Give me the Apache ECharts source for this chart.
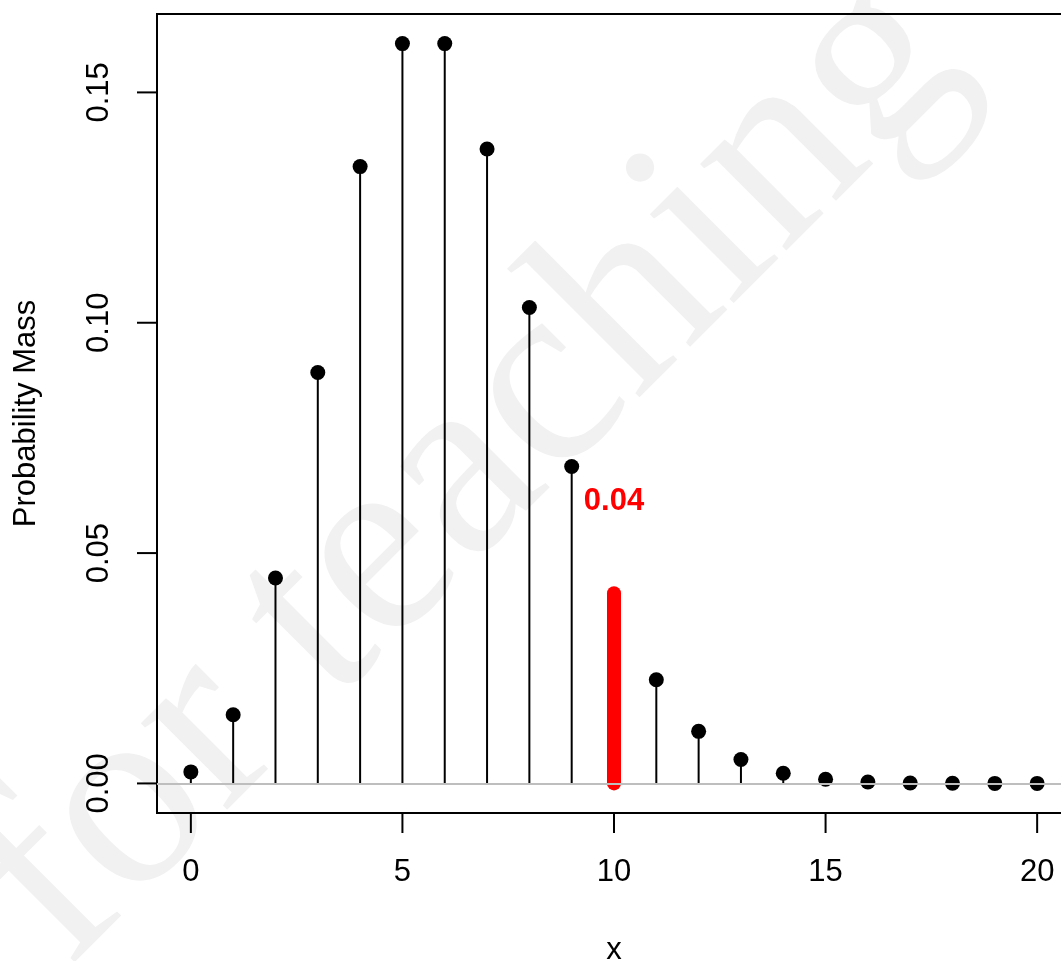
<!DOCTYPE html>
<html>
<head>
<meta charset="utf-8">
<title>Probability Mass</title>
<script src="https://cdn.jsdelivr.net/npm/echarts@6/dist/echarts.min.js"></script>
<style>
  html, body { margin: 0; padding: 0; background: #ffffff; }
  #chart { width: 1061px; height: 961px; }
</style>
</head>
<body>
<div id="chart"></div>
<script>
// Outcomes and their probability masses
const xValues = [0, 1, 2, 3, 4, 5, 6, 7, 8, 9, 10, 11, 12, 13, 14, 15, 16, 17, 18, 19, 20];
const massValues = [0.0025, 0.0149, 0.0446, 0.0892, 0.1339, 0.1606, 0.1606, 0.1377, 0.1033, 0.0688,
                    0.0413, 0.0225, 0.0113, 0.0052, 0.0022, 0.0009, 0.0003, 0.0001, 0.00004, 0.00001, 0.000004];
// Outcome drawn as the highlighted thick red bar
const highlightX = 10;
// Tick positions and their labels
const xTicks = [0, 5, 10, 15, 20];
const xTickLabels = ['0', '5', '10', '15', '20'];
const yTicks = [0, 0.05, 0.10, 0.15];
const yTickLabels = ['0.00', '0.05', '0.10', '0.15'];
const xTitle = 'x';
const yTitle = 'Probability Mass';
const watermarkText = 'for teaching';

// axis ranges (data range padded by 4% on each side)
const X_MIN = -0.8, X_MAX = 20.8;
const Y_MIN = -0.00642, Y_MAX = 0.16702;

const pairs = xValues.map((x, i) => [x, massValues[i]]);
const regular = pairs.filter(p => p[0] !== highlightX);
const highlighted = pairs.filter(p => p[0] === highlightX);

const FONT = '"Liberation Sans", Arial, Helvetica, sans-serif';
const TICK_LEN = 20;

const chart = echarts.init(document.getElementById('chart'), null, { renderer: 'canvas' });

chart.setOption({
  animation: false,
  backgroundColor: '#ffffff',
  graphic: [{
    type: 'text',
    z: -10,
    silent: true,
    x: 469,
    y: 469,
    rotation: Math.PI / 4,
    style: {
      text: watermarkText,
      fontFamily: '"Liberation Serif", "DejaVu Serif", serif',
      fontSize: 266,
      fill: '#f1f1f1',
      align: 'center',
      verticalAlign: 'middle'
    }
  }],
  grid: {
    left: 157,
    top: 14,
    width: 914,
    height: 799,
    outerBoundsMode: 'none',
    show: true,
    borderColor: '#000000',
    borderWidth: 2
  },
  xAxis: {
    type: 'value',
    min: X_MIN,
    max: X_MAX,
    name: xTitle,
    nameLocation: 'middle',
    nameGap: 122,
    nameTextStyle: { fontFamily: FONT, fontSize: 31, color: '#000' },
    axisLine: { show: false, onZero: false },
    splitLine: { show: false },
    axisTick: { show: false },
    axisLabel: { show: false }
  },
  yAxis: {
    type: 'value',
    min: Y_MIN,
    max: Y_MAX,
    name: yTitle,
    nameLocation: 'middle',
    nameGap: 115,
    nameRotate: 90,
    nameTextStyle: { fontFamily: FONT, fontSize: 31, color: '#000' },
    axisLine: { show: false, onZero: false },
    splitLine: { show: false },
    axisTick: { show: false },
    axisLabel: { show: false }
  },
  series: [
    {
      // reference line at zero
      type: 'line',
      data: [],
      z: 1,
      markLine: {
        silent: true,
        symbol: 'none',
        label: { show: false },
        lineStyle: { color: '#bebebe', width: 2, type: 'solid' },
        data: [{ yAxis: 0 }]
      }
    },
    {
      // x-axis ticks and labels below the frame
      type: 'custom',
      clip: false,
      silent: true,
      z: 10,
      data: xTicks.map((t, i) => [t, Y_MIN, i]),
      renderItem: (params, api) => {
        const p = api.coord([api.value(0), api.value(1)]);
        const label = xTickLabels[api.value(2)];
        return {
          type: 'group',
          children: [
            {
              type: 'rect',
              shape: { x: p[0] - 1, y: p[1], width: 2, height: TICK_LEN },
              style: { fill: '#000000' }
            },
            {
              type: 'text',
              x: p[0], y: p[1] + 59,
              style: {
                text: label, fill: '#000', fontFamily: FONT, fontSize: 31,
                align: 'center', verticalAlign: 'middle'
              }
            }
          ]
        };
      }
    },
    {
      // y-axis ticks and rotated labels left of the frame
      type: 'custom',
      clip: false,
      silent: true,
      z: 10,
      data: yTicks.map((t, i) => [X_MIN, t, i]),
      renderItem: (params, api) => {
        const p = api.coord([api.value(0), api.value(1)]);
        const label = yTickLabels[api.value(2)];
        return {
          type: 'group',
          children: [
            {
              type: 'rect',
              shape: { x: p[0] - TICK_LEN, y: p[1] - 1, width: TICK_LEN, height: 2 },
              style: { fill: '#000000' }
            },
            {
              type: 'text',
              x: p[0] - 58, y: p[1],
              rotation: Math.PI / 2,
              style: {
                text: label, fill: '#000', fontFamily: FONT, fontSize: 31,
                align: 'center', verticalAlign: 'middle'
              }
            }
          ]
        };
      }
    },
    {
      // vertical stems
      type: 'custom',
      z: 2,
      data: regular,
      renderItem: (params, api) => {
        const x = api.value(0), y = api.value(1);
        const p0 = api.coord([x, 0]);
        const p1 = api.coord([x, y]);
        return {
          type: 'line',
          shape: { x1: p0[0], y1: p0[1], x2: p1[0], y2: p1[1] },
          style: { stroke: '#000000', lineWidth: 2 }
        };
      }
    },
    {
      // point markers at the top of each stem
      type: 'scatter',
      z: 3,
      data: regular,
      symbol: 'circle',
      symbolSize: 15,
      itemStyle: { color: '#000000', opacity: 1 }
    },
    {
      // highlighted outcome with its value
      type: 'custom',
      z: 4,
      data: highlighted,
      renderItem: (params, api) => {
        const x = api.value(0), y = api.value(1);
        const p0 = api.coord([x, 0]);
        const p1 = api.coord([x, y]);
        const pt = api.coord([x, y + 0.02]);
        return {
          type: 'group',
          children: [
            {
              type: 'line',
              shape: { x1: p0[0], y1: p0[1], x2: p1[0], y2: p1[1] },
              style: { stroke: '#ff0000', lineWidth: 14, lineCap: 'round' }
            },
            {
              type: 'text',
              x: pt[0], y: pt[1],
              style: {
                text: y.toFixed(2),
                fill: '#ff0000',
                fontFamily: FONT,
                fontWeight: 'bold',
                fontSize: 31,
                align: 'center',
                verticalAlign: 'middle'
              }
            }
          ]
        };
      }
    }
  ]
});
</script>
</body>
</html>
